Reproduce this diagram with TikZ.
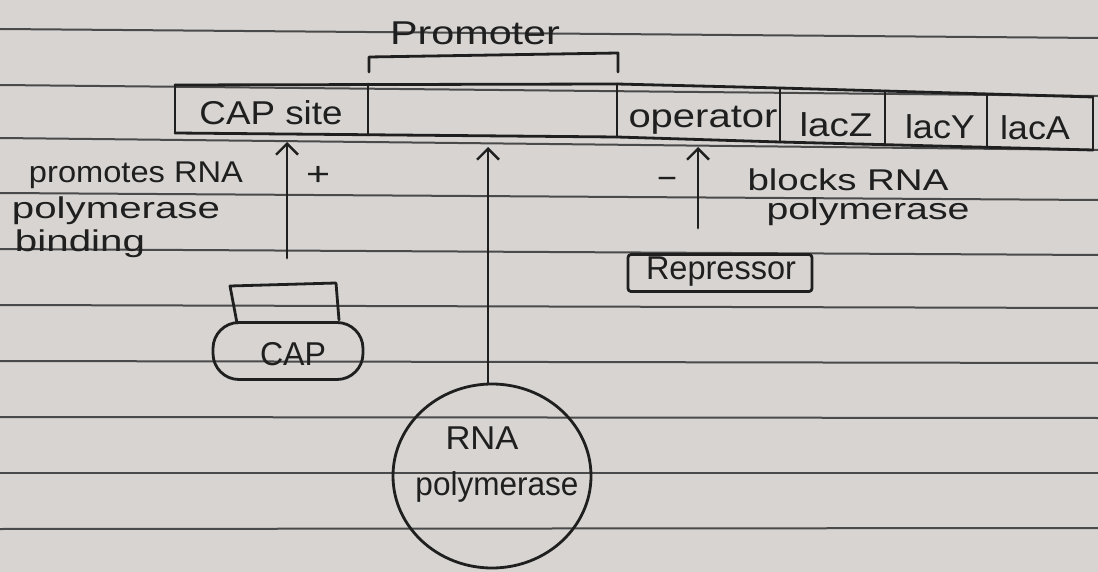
\documentclass[tikz,border=0pt]{standalone}
\usepackage{fontspec}
\setmainfont{Liberation Sans}
\usetikzlibrary{arrows.meta,shapes.geometric}
\definecolor{paper}{HTML}{D7D4D1}
\definecolor{ink}{HTML}{1F1F1F}
\definecolor{ruling}{HTML}{4A4A4A}
% text stretched to a given width (in pt), natural height kept
\newcommand{\hw}[2]{\resizebox{#1pt}{\height}{#2}}
\begin{document}
\begin{tikzpicture}[x=1pt,y=-1pt,
  inkline/.style={draw=ink,line width=2.8pt,line cap=round,line join=round},
  lbl/.style={text=ink,inner sep=0pt,font=\fontsize{33}{38}\selectfont},
  small/.style={lbl,font=\fontsize{30}{34}\selectfont},
  uparrow/.style={inkline,-{Straight Barb[length=11pt,width=22pt,line width=2.4pt]}}]
% paper
\fill[paper] (0,0) rectangle (1098,572);
\useasboundingbox (0,0) rectangle (1098,572);
% ruled lines of the notebook page
\foreach \l/\r in {29/38,85/96,138/150,193/200,249/255,305/308,361/363,417/418,473/473,529/528}
  \draw[ruling,line width=2pt] (0,\l) -- (1098,\r);

% ---- operon strip ----
\draw[inkline] (175,85) -- (617,84) -- (780,88) -- (1093,97);
\draw[inkline] (175,133) -- (617,137) -- (780,142) -- (1093,150);
\foreach \x/\t/\b in {175/85/133, 368/84/135, 617/84/137, 780/88/142, 885/91/145, 987/94/147, 1093/97/150}
  \draw[inkline] (\x,\t) -- (\x,\b);

% promoter bracket
\draw[inkline] (369,72) -- (369,57) -- (618,53) -- (618,72);
\node[lbl] (promoter) at (475,33) {\hw{170}{Promoter}};

\node[lbl] (capsite) at (271,113) {\hw{143}{CAP site}};
\node[lbl] (operator) at (703,120) {\hw{149}{operator}};
\node[lbl] (lacZ) at (836,125) {\hw{73}{lacZ}};
\node[lbl] (lacY) at (940,127) {\hw{70}{lacY}};
\node[lbl] (lacA) at (1035,128) {\hw{70}{lacA}};

% ---- CAP ----
\draw[inkline] (237,323) -- (230,286) -- (336,283) -- (339,320);
\node[inkline,rounded corners=26pt,minimum width=150pt,minimum height=57pt] (cap) at (288,351) {};
\node[lbl] (caplbl) at (293,354) {\hw{66}{CAP}};
\coordinate (captop) at (287,258);
\coordinate (capsitein) at (287,142);
\draw[uparrow] (captop) -- (capsitein);
\node[lbl] (plus) at (318,176) {\hw{24}{+}};

\node[small] (l1) at (136,175) {\hw{214}{promotes RNA}};
\node[small] (l2) at (116,211) {\hw{208}{polymerase}};
\node[small] (l3) at (80,244) {\hw{130}{binding}};

% ---- RNA polymerase ----
\node[inkline,ellipse,minimum width=198pt,minimum height=184pt] (rnap) at (492,476) {};
\node[lbl] (r1) at (482,438) {\hw{73}{RNA}};
\node[lbl] (r2) at (497,487) {\hw{163}{polymerase}};
\coordinate (promin) at (488,147);
\draw[uparrow] (rnap.north -| promin) -- (promin);

% ---- Repressor ----
\node[inkline,rounded corners=3pt,minimum width=184pt,minimum height=37pt] (rep) at (720,273) {};
\node[lbl] (replbl) at (721,272) {\hw{150}{Repressor}};
\coordinate (reptop) at (698,228);
\coordinate (opin) at (698,147);
\draw[uparrow] (reptop) -- (opin);
\node[lbl] (minus) at (667,183) {\hw{20}{−}};
\node[small] (b1) at (848,180) {\hw{201}{blocks RNA}};
\node[small] (b2) at (868,212) {\hw{203}{polymerase}};
\end{tikzpicture}
\end{document}
